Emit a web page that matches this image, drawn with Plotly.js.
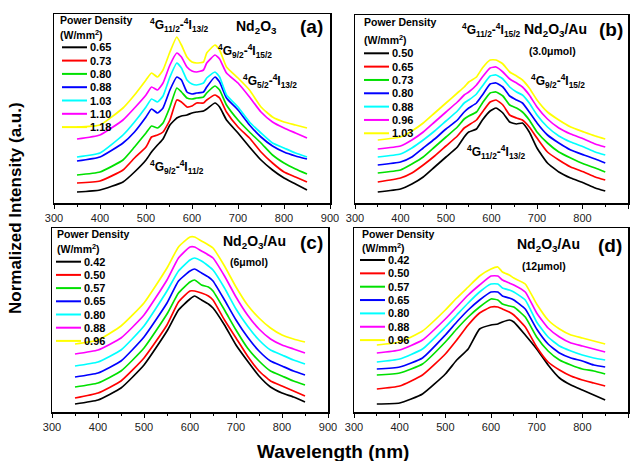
<!DOCTYPE html>
<html><head><meta charset="utf-8">
<script src="https://cdn.plot.ly/plotly-3.0.1.min.js"></script>
<style>html,body{margin:0;padding:0;background:#fff}#chart{width:637px;height:461px}</style>
</head><body><div id="chart"></div>
<script>
// ---------- data ----------
const colors = ['#000000','#ff0000','#00e000','#0000ff','#00ffff','#ff00ff','#ffff00'];

const powA = ['0.65','0.73','0.80','0.88','1.03','1.10','1.18'];
const powB = ['0.50','0.65','0.73','0.80','0.88','0.96','1.03'];
const powC = ['0.42','0.50','0.57','0.65','0.80','0.88','0.96'];
const powD = ['0.42','0.50','0.57','0.65','0.80','0.88','0.96'];

// (a) Nd2O3
const wlA = [350,400,450,475,500,512,525,537,552,567,577,589,600,610,625,632,650,660,675,700,725,750,775,800,825,850];
const a1 = [11,13,21,31,43,51,58,64,78,85,87,88,90,91,92,94,100,96,83,70,56,43,33,25,19,13];
const a2 = [20,22,33,45,56,66,68,71,83,103,101,96,97,100,100,103,108,105,91,76,65,51,40,31,26,21];
const a3 = [28,31,43,56,70,77,75,80,96,115,111,105,104,105,106,110,117,113,98,83,71,60,48,40,34,29];
const a4 = [42,46,60,71,86,94,90,95,113,126,123,111,109,110,111,116,126,121,105,93,78,66,57,51,47,44];
const a5 = [46,50,68,81,96,104,101,107,126,140,135,123,119,118,120,125,131,126,108,96,81,70,60,55,50,46];
const a6 = [64,68,83,95,108,116,113,120,138,150,146,136,132,131,133,140,148,144,130,120,106,91,81,75,70,65];
const a7 = [76,78,95,108,123,130,126,133,151,166,158,146,141,140,141,150,158,153,136,125,113,96,86,81,78,75];

// (b) Nd2O3/Au 3.0 umol
const wlB = [350,400,425,450,475,500,525,540,550,567,580,597,610,625,640,655,668,683,700,723,748,774,803,828,850];
const b1 = [11,14,19,26,36,46,56,66,71,74,83,92,95,90,81,79,80,71,55,40,31,25,20,15,12];
const b2 = [21,25,30,38,47,57,67,75,78,83,91,101,103,98,88,85,83,76,65,51,43,36,31,26,23];
const b3 = [30,33,39,46,56,66,76,84,87,91,100,110,111,107,98,95,91,83,71,60,51,45,39,35,31];
const b4 = [38,41,46,55,64,74,83,91,95,100,108,119,120,116,107,103,100,91,80,68,60,53,48,44,40];
const b5 = [46,49,55,63,72,82,92,100,103,109,117,127,128,124,116,111,108,100,88,76,67,61,56,51,48];
const b6 = [54,57,63,71,81,91,101,108,111,118,126,135,136,131,124,120,116,108,96,84,75,69,64,59,56];
const b7 = [63,66,72,80,90,100,110,116,121,126,135,143,143,139,131,127,123,115,103,91,83,76,71,67,64];

// (c) Nd2O3/Au 6 umol
const wlC = [350,400,450,500,550,575,600,610,625,640,650,675,700,725,750,775,800,825,850];
const c1 = [8,12,24,47,81,102,113,116,112,108,104,87,67,51,36,25,19,15,10];
const c2 = [14,19,31,54,87,110,121,121,119,116,112,92,74,56,41,31,26,21,16];
const c3 = [25,29,41,64,98,119,130,132,127,125,121,102,82,64,51,41,36,31,27];
const c4 = [35,39,51,75,109,131,141,143,139,135,131,112,92,75,61,51,46,41,37];
const c5 = [46,50,62,86,121,141,152,154,151,146,142,124,103,86,72,62,57,52,48];
const c6 = [58,62,74,97,132,154,165,165,161,157,154,136,115,97,83,73,67,63,59];
const c7 = [68,72,86,109,144,165,175,175,171,167,164,146,125,107,94,84,77,73,70];

// (d) Nd2O3/Au 12 umol
const wlD = [350,400,450,500,525,550,575,600,615,625,640,650,675,700,725,750,775,800,825,850];
const d1 = [8,9,18,38,52,63,83,87,88,90,92,90,77,63,47,34,27,22,17,12];
const d2 = [23,26,37,58,72,87,99,105,105,103,100,97,85,65,50,42,36,32,29,26];
const d3 = [37,39,48,70,83,95,105,113,112,108,106,105,95,75,61,52,47,43,41,38];
const d4 = [43,45,54,77,90,102,112,120,120,116,114,112,103,83,68,59,54,51,47,45];
const d5 = [50,53,63,85,97,109,120,128,128,124,122,120,112,90,75,66,61,57,54,52];
const d6 = [59,62,72,93,105,117,127,136,136,132,129,127,120,99,84,75,69,66,63,60];
const d7 = [67,70,81,102,114,125,136,143,145,140,137,134,128,108,92,83,77,74,71,68];

// ---------- build ----------
const W = 637, H = 461;
const X = px => px / W;
const Y = py => 1 - py / H;
const FONT = 'Liberation Sans, Arial, Helvetica, sans-serif';

const panels = [
  {wl: wlA, ys: [a1,a2,a3,a4,a5,a6,a7], pow: powA, xa: 'x',  ya: 'y',
   xd: [54,330], yd: [14,203], yr: [0,189],
   lg: {tx: 58, ty: 20, uy: 34, l0: 62, l1: 87, lx: 88, y0: 47.3, dy: 13.3}},
  {wl: wlB, ys: [b1,b2,b3,b4,b5,b6,b7], pow: powB, xa: 'x2', ya: 'y2',
   xd: [355,628], yd: [15,203], yr: [0,188],
   lg: {tx: 362, ty: 22, uy: 39, l0: 364, l1: 389, lx: 390, y0: 53.3, dy: 13.33}},
  {wl: wlC, ys: [c1,c2,c3,c4,c5,c6,c7], pow: powC, xa: 'x3', ya: 'y3',
   xd: [52,328], yd: [228,412], yr: [0,184],
   lg: {tx: 55, ty: 234, uy: 249, l0: 56, l1: 81, lx: 82, y0: 261.7, dy: 13.2}},
  {wl: wlD, ys: [d1,d2,d3,d4,d5,d6,d7], pow: powD, xa: 'x4', ya: 'y4',
   xd: [354,628], yd: [228,412], yr: [0,184],
   lg: {tx: 360, ty: 234, uy: 247, l0: 360, l1: 385, lx: 386, y0: 260, dy: 13.35}}
];

const traces = [];
const shapes = [];
const annotations = [];
const layout = {
  width: W, height: H,
  margin: {l: 0, r: 0, t: 0, b: 0},
  paper_bgcolor: '#fff', plot_bgcolor: '#fff',
  showlegend: false,
  font: {family: FONT, color: '#000'}
};

panels.forEach((p, i) => {
  p.ys.forEach((ys, k) => {
    traces.push({
      type: 'scatter', mode: 'lines', x: p.wl, y: ys,
      name: p.pow[k], xaxis: p.xa, yaxis: p.ya,
      line: {color: colors[k], width: 1.7, shape: 'spline', smoothing: 0.45},
      hoverinfo: 'skip'
    });
    const yy = p.lg.y0 + k * p.lg.dy;
    shapes.push({type: 'line', xref: 'paper', yref: 'paper',
      x0: X(p.lg.l0), x1: X(p.lg.l1), y0: Y(yy), y1: Y(yy),
      line: {color: colors[k], width: 2}});
    annotations.push({xref: 'paper', yref: 'paper', x: X(p.lg.lx), y: Y(yy),
      xanchor: 'left', yanchor: 'middle', showarrow: false,
      text: '<b>' + p.pow[k] + '</b>', font: {size: 11, family: FONT, color: '#000'}});
  });
  annotations.push({xref: 'paper', yref: 'paper', x: X(p.lg.tx), y: Y(p.lg.ty),
    xanchor: 'left', yanchor: 'middle', showarrow: false,
    text: '<b>Power Density</b>', font: {size: 10.5, family: FONT}});
  annotations.push({xref: 'paper', yref: 'paper', x: X(p.lg.tx), y: Y(p.lg.uy),
    xanchor: 'left', yanchor: 'middle', showarrow: false,
    text: '<b>(W/mm<sup>2</sup>)</b>', font: {size: 10.5, family: FONT}});

  const n = i === 0 ? '' : String(i + 1);
  layout['xaxis' + n] = {
    domain: [X(p.xd[0]), X(p.xd[1])], anchor: p.ya, range: [300, 900],
    tickmode: 'linear', tick0: 300, dtick: 100,
    ticks: 'outside', ticklen: 4, tickwidth: 1, tickcolor: '#000',
    minor: {dtick: 50, ticks: 'outside', ticklen: 2, tickwidth: 1, tickcolor: '#000'},
    showline: true, linecolor: '#000', linewidth: 1.5, mirror: true,
    showgrid: false, zeroline: false,
    tickfont: {size: 11, family: FONT, color: '#222'}, fixedrange: true
  };
  layout['yaxis' + n] = {
    domain: [Y(p.yd[1]), Y(p.yd[0])], anchor: p.xa, range: p.yr,
    showticklabels: false, ticks: '',
    showline: true, linecolor: '#000', linewidth: 1.5, mirror: true,
    showgrid: false, zeroline: false, fixedrange: true
  };
});

const lab = (px, py, text, size, anchor) => annotations.push({
  xref: 'paper', yref: 'paper', x: X(px), y: Y(py),
  xanchor: anchor || 'center', yanchor: 'middle', showarrow: false,
  text: text, font: {size: size, family: FONT, color: '#000'}
});
// (a)
lab(256, 27, '<b>Nd<sub>2</sub>O<sub>3</sub></b>', 14);
lab(311, 27, '<b>(a)</b>', 19);
lab(179, 25, '<b><sup>4</sup>G<sub>11/2</sub>-<sup>4</sup>I<sub>13/2</sub></b>', 12);
lab(245, 51, '<b><sup>4</sup>G<sub>9/2</sub>-<sup>4</sup>I<sub>15/2</sub></b>', 12);
lab(270, 81, '<b><sup>4</sup>G<sub>5/2</sub>-<sup>4</sup>I<sub>13/2</sub></b>', 12);
lab(177, 167, '<b><sup>4</sup>G<sub>9/2</sub>-<sup>4</sup>I<sub>11/2</sub></b>', 12);
// (b)
lab(491, 30, '<b><sup>4</sup>G<sub>11/2</sub>-<sup>4</sup>I<sub>15/2</sub></b>', 12);
lab(555, 30, '<b>Nd<sub>2</sub>O<sub>3</sub>/Au</b>', 14);
lab(611, 30, '<b>(b)</b>', 19);
lab(552, 51, '<b>(3.0μmol)</b>', 10.5);
lab(558, 81, '<b><sup>4</sup>G<sub>9/2</sub>-<sup>4</sup>I<sub>15/2</sub></b>', 12);
lab(496, 152, '<b><sup>4</sup>G<sub>11/2</sub>-<sup>4</sup>I<sub>13/2</sub></b>', 12);
// (c)
lab(254, 242, '<b>Nd<sub>2</sub>O<sub>3</sub>/Au</b>', 14);
lab(311, 242, '<b>(c)</b>', 19);
lab(249, 262, '<b>(6μmol)</b>', 10.5);
// (d)
lab(548, 245, '<b>Nd<sub>2</sub>O<sub>3</sub>/Au</b>', 14);
lab(610, 245, '<b>(d)</b>', 19);
lab(544, 266, '<b>(12μmol)</b>', 10.5);

annotations.push({xref: 'paper', yref: 'paper', x: X(333), y: Y(451),
  xanchor: 'center', yanchor: 'middle', showarrow: false,
  text: '<b>Wavelength (nm)</b>', font: {size: 19, family: FONT, color: '#000'}});
annotations.push({xref: 'paper', yref: 'paper', x: X(15), y: Y(208),
  xanchor: 'center', yanchor: 'middle', showarrow: false, textangle: -90,
  text: '<b>Normalized Intensity (a.u.)</b>', font: {size: 17, family: FONT, color: '#000'}});

layout.shapes = shapes;
layout.annotations = annotations;

Plotly.newPlot('chart', traces, layout, {staticPlot: true, displayModeBar: false});
</script>
</body></html>
